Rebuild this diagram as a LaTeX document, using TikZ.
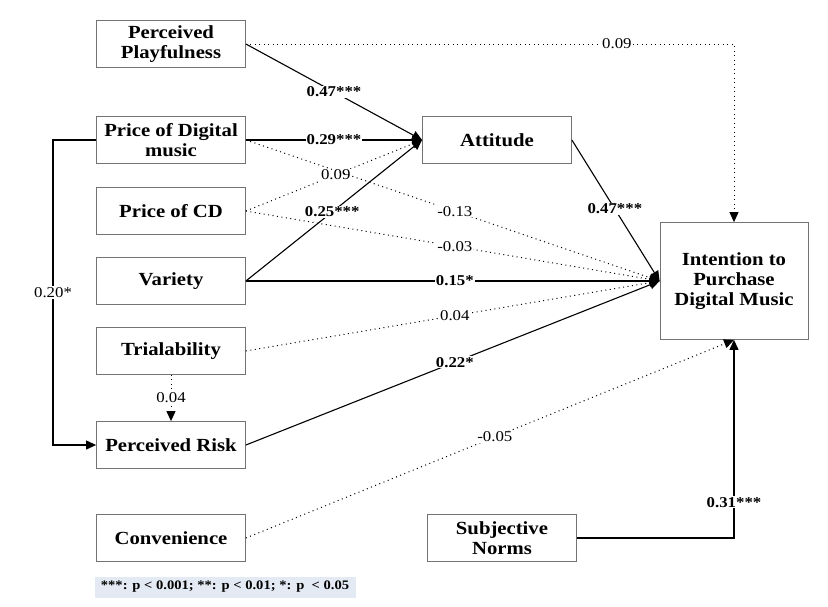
\documentclass[tikz,border=0pt]{standalone}
\usepackage{fontspec}
\setmainfont{Liberation Serif}[FakeStretch=1.12]
\usepackage{xcolor}
\usetikzlibrary{arrows.meta,positioning}
\definecolor{legendbg}{RGB}{228,234,244}

\begin{document}
\begin{tikzpicture}[x=1pt, y=-1pt,
        var/.style={rectangle, draw=black!55, fill=white, line width=0.8pt, minimum width=149pt, minimum height=47pt, align=center, inner sep=2pt, font=\fontsize{18.5}{20}\selectfont\bfseries},
        sig/.style={-{Triangle[length=10pt,width=9pt]}, line width=1.1pt},
        ns/.style={-{Triangle[length=10pt,width=9pt]}, line width=1pt, dash pattern=on 1pt off 3.5pt},
        lbl/.style={fill=white, inner sep=1pt, font=\fontsize{15}{17}\selectfont},
        lblb/.style={fill=white, inner sep=1pt, font=\fontsize{15}{17}\selectfont\bfseries}
    ]
        \useasboundingbox (0,0) rectangle (828,606);
        % Boxes
        \node[var] (playful) at (171,44) {Perceived\\Playfulness};
        \node[var] (pricedm) at (171,140) {Price of Digital\\music};
        \node[var] (pricecd) at (171,211) {Price of CD};
        \node[var] (variety) at (171,281) {Variety};
        \node[var] (trial) at (171,351) {Trialability};
        \node[var] (risk) at (171,445) {Perceived Risk};
        \node[var] (conv) at (171,538) {Convenience};
        \node[var] (attitude) at (497,140) {Attitude};
        \node[var, minimum width=148pt, minimum height=117pt] (intent) at (734,281) {Intention to\\Purchase\\Digital Music};
        \node[var] (norms) at (502,538) {Subjective\\Norms};
        \node[rectangle, fill=legendbg, minimum width=261pt, minimum height=21pt, font=\fontsize{13}{15}\selectfont\bfseries] (legend) at (225,587) {***: p < 0.001; **: p < 0.01; *: p\ \ < 0.05};
        \coordinate (bend) at (53,140);
        
        % Paths to attitude
        \draw[sig] (playful.east) -- node[lblb]{0.47***} (attitude.west);
        \draw[sig] (pricedm.east) -- node[lblb]{0.29***} (attitude.west);
        \draw[ns] (pricecd.east) -- node[lbl, pos=0.51]{0.09} (attitude.west);
        \draw[sig] (variety.east) -- node[lblb, pos=0.49]{0.25***} (attitude.west);
        
        % Paths to intention
        \draw[ns] (playful.east) -| node[lbl, pos=0.38]{0.09} (intent.north);
        \draw[sig] (attitude.east) -- node[lblb, pos=0.49]{0.47***} (intent.west);
        \draw[ns] (pricedm.east) -- node[lbl, pos=0.505]{-0.13} (intent.west);
        \draw[ns] (pricecd.east) -- node[lbl, pos=0.505]{-0.03} (intent.west);
        \draw[sig] (variety.east) -- node[lblb, pos=0.505]{0.15*} (intent.west);
        \draw[ns] (trial.east) -- node[lbl, pos=0.505]{0.04} (intent.west);
        \draw[sig] (risk.east) -- node[lblb, pos=0.505]{0.22*} (intent.west);
        \draw[ns] (conv.east) -- node[lbl, pos=0.51]{-0.05} (intent.south);
        \draw[sig] (norms.east) -| node[lblb, pos=0.59]{0.31***} (intent.south);
        
        % Paths to perceived risk
        \draw[ns] (trial.south) -- node[lbl]{0.04} (risk.north);
        \draw[sig] (pricedm.west) -- (bend) |- node[lbl, pos=0.25]{0.20*} (risk.west);
    \end{tikzpicture}
\end{document}
